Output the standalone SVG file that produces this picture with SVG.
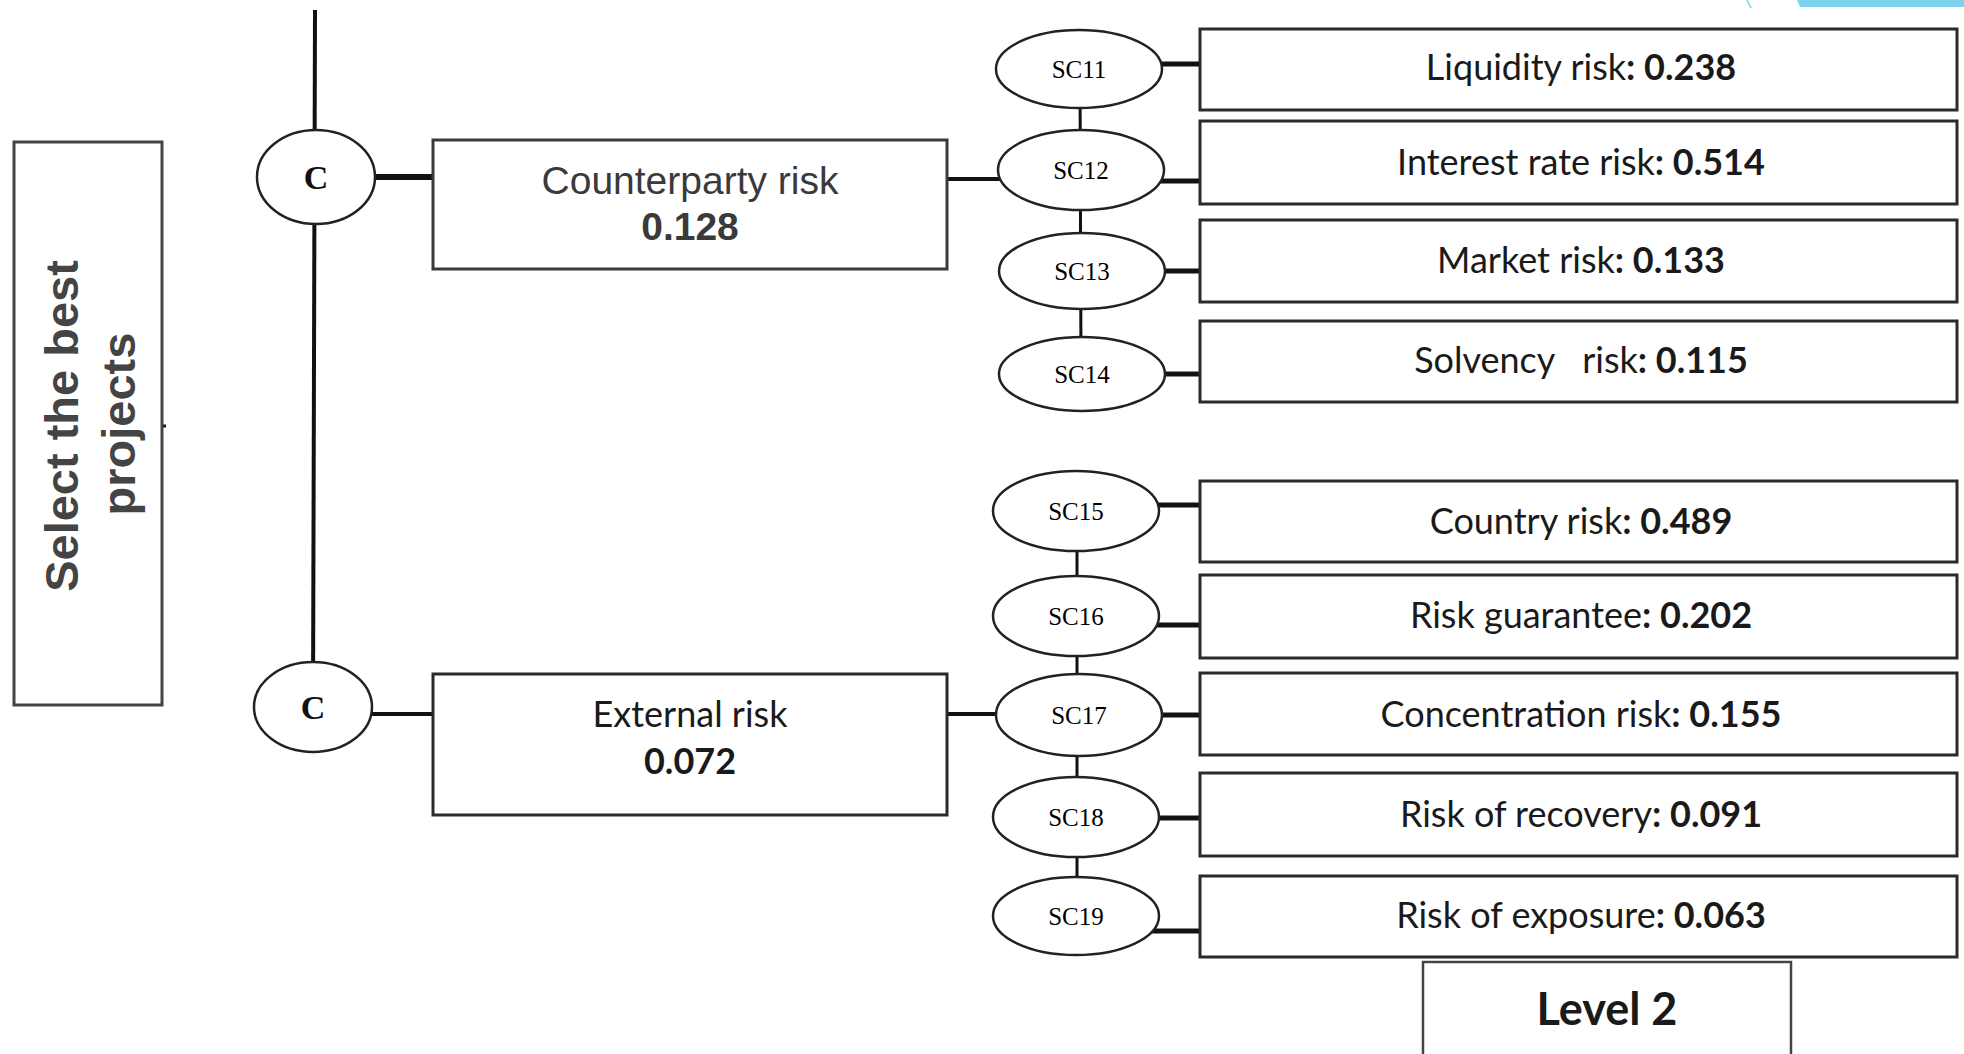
<svg xmlns="http://www.w3.org/2000/svg" width="1964" height="1054" viewBox="0 0 1964 1054">
<style>
.ln{stroke:#111;fill:none;stroke-linecap:butt}
.box{fill:#fff;stroke:#2a2a2a;stroke-width:3}
.ell{fill:#fff;stroke:#222;stroke-width:2.5}
.c{font-family:"Liberation Serif",serif;font-weight:bold;font-size:34px;fill:#111;text-anchor:middle}
.sc{font-family:"Liberation Serif",serif;font-size:25px;fill:#000;text-anchor:middle}
.rt{font-family:Lato,"Open Sans",sans-serif;font-size:36px;fill:#1a1a1a;text-anchor:middle;white-space:pre}
.b{font-weight:bold}
.ar{font-family:"Liberation Sans",Arial,sans-serif;font-size:39px;fill:#3a3a3a;text-anchor:middle}
.sel{font-family:"Liberation Sans",Arial,sans-serif;font-size:47px;font-weight:bold;fill:#444;text-anchor:middle}
</style>
<rect width="1964" height="1054" fill="#fff"/>
<polygon points="1797,0 1964,0 1964,7 1800,7" fill="#7dd3ee"/>
<line x1="1747" y1="0" x2="1751" y2="8" stroke="#7dd3ee" stroke-width="1.5"/>

<g id="connectors">
  <line class="ln" x1="315" y1="10" x2="313" y2="708" stroke-width="4"/>
  <line class="ln" x1="162" y1="426" x2="166" y2="426" stroke-width="3"/>
  <line class="ln" x1="330" y1="177" x2="433" y2="177" stroke-width="6"/>
  <line class="ln" x1="330" y1="714" x2="433" y2="714" stroke-width="4"/>
  <line class="ln" x1="947" y1="179" x2="1030" y2="179" stroke-width="4"/>
  <line class="ln" x1="947" y1="714" x2="1030" y2="714" stroke-width="4"/>
  <line class="ln" x1="1080" y1="69" x2="1081" y2="374" stroke-width="3"/>
  <line class="ln" x1="1077" y1="511" x2="1077" y2="916" stroke-width="3"/>
  <line class="ln" x1="1100" y1="64" x2="1200" y2="64" stroke-width="5"/>
  <line class="ln" x1="1100" y1="181" x2="1200" y2="181" stroke-width="5"/>
  <line class="ln" x1="1100" y1="271" x2="1200" y2="271" stroke-width="5"/>
  <line class="ln" x1="1100" y1="374" x2="1200" y2="374" stroke-width="5"/>
  <line class="ln" x1="1100" y1="505" x2="1200" y2="505" stroke-width="5"/>
  <line class="ln" x1="1100" y1="625" x2="1200" y2="625" stroke-width="5"/>
  <line class="ln" x1="1100" y1="715" x2="1200" y2="715" stroke-width="5"/>
  <line class="ln" x1="1100" y1="818" x2="1200" y2="818" stroke-width="5"/>
  <line class="ln" x1="1100" y1="931" x2="1200" y2="931" stroke-width="5"/>
</g>

<g id="goal">
  <rect class="box" x="14" y="142" width="148" height="563" style="stroke:#444"/>
  <text class="sel" transform="translate(78,426) rotate(-90)">Select the best</text>
  <text class="sel" transform="translate(135,424) rotate(-90)">projects</text>
</g>

<g id="c1"><ellipse class="ell" cx="316" cy="177" rx="59" ry="47"/><text class="c" x="316" y="189">C</text></g>
<g id="c2"><ellipse class="ell" cx="313" cy="707" rx="59" ry="45"/><text class="c" x="313" y="719">C</text></g>

<g id="counterparty">
  <rect class="box" x="433" y="140" width="514" height="129" style="stroke:#3a3a3a"/>
  <text class="ar" x="690" y="194">Counterparty risk</text>
  <text class="ar b" x="690" y="240">0.128</text>
</g>
<g id="external">
  <rect class="box" x="433" y="674" width="514" height="141"/>
  <text class="rt" x="690" y="727">External risk</text>
  <text class="rt b" x="690" y="774">0.072</text>
</g>

<g id="sc11"><ellipse class="ell" cx="1079" cy="69" rx="83" ry="39"/><text class="sc" x="1079" y="78">SC11</text></g>
<g id="sc12"><ellipse class="ell" cx="1081" cy="170" rx="83" ry="40"/><text class="sc" x="1081" y="179">SC12</text></g>
<g id="sc13"><ellipse class="ell" cx="1082" cy="271" rx="83" ry="38"/><text class="sc" x="1082" y="280">SC13</text></g>
<g id="sc14"><ellipse class="ell" cx="1082" cy="374" rx="83" ry="37"/><text class="sc" x="1082" y="383">SC14</text></g>
<g id="sc15"><ellipse class="ell" cx="1076" cy="511" rx="83" ry="40"/><text class="sc" x="1076" y="520">SC15</text></g>
<g id="sc16"><ellipse class="ell" cx="1076" cy="616" rx="83" ry="40"/><text class="sc" x="1076" y="625">SC16</text></g>
<g id="sc17"><ellipse class="ell" cx="1079" cy="715" rx="83" ry="41"/><text class="sc" x="1079" y="724">SC17</text></g>
<g id="sc18"><ellipse class="ell" cx="1076" cy="817" rx="83" ry="40"/><text class="sc" x="1076" y="826">SC18</text></g>
<g id="sc19"><ellipse class="ell" cx="1076" cy="916" rx="83" ry="39"/><text class="sc" x="1076" y="925">SC19</text></g>

<g id="liquidity"><rect class="box" x="1200" y="29" width="757" height="81"/><text class="rt" x="1581" y="80">Liquidity risk<tspan class="b">: 0.238</tspan></text></g>
<g id="interest"><rect class="box" x="1200" y="121" width="757" height="83"/><text class="rt" x="1581" y="175">Interest rate risk<tspan class="b">: 0.514</tspan></text></g>
<g id="market"><rect class="box" x="1200" y="220" width="757" height="82"/><text class="rt" x="1581" y="273">Market risk<tspan class="b">: 0.133</tspan></text></g>
<g id="solvency"><rect class="box" x="1200" y="321" width="757" height="81"/><text class="rt" x="1581" y="373" xml:space="preserve">Solvency   risk<tspan class="b">: 0.115</tspan></text></g>
<g id="country"><rect class="box" x="1200" y="481" width="757" height="81"/><text class="rt" x="1581" y="534">Country risk<tspan class="b">: 0.489</tspan></text></g>
<g id="guarantee"><rect class="box" x="1200" y="575" width="757" height="83"/><text class="rt" x="1581" y="628">Risk guarantee<tspan class="b">: 0.202</tspan></text></g>
<g id="concentration"><rect class="box" x="1200" y="673" width="757" height="82"/><text class="rt" x="1581" y="727">Concentration risk<tspan class="b">: 0.155</tspan></text></g>
<g id="recovery"><rect class="box" x="1200" y="773" width="757" height="83"/><text class="rt" x="1581" y="827">Risk of recovery<tspan class="b">: 0.091</tspan></text></g>
<g id="exposure"><rect class="box" x="1200" y="876" width="757" height="81"/><text class="rt" x="1581" y="928">Risk of exposure<tspan class="b">: 0.063</tspan></text></g>

<g id="level2">
  <rect x="1423" y="962" width="368" height="120" fill="#fff" stroke="#444" stroke-width="2.5"/>
  <text class="rt b" x="1607" y="1025" style="font-size:45px">Level 2</text>
</g>
</svg>
